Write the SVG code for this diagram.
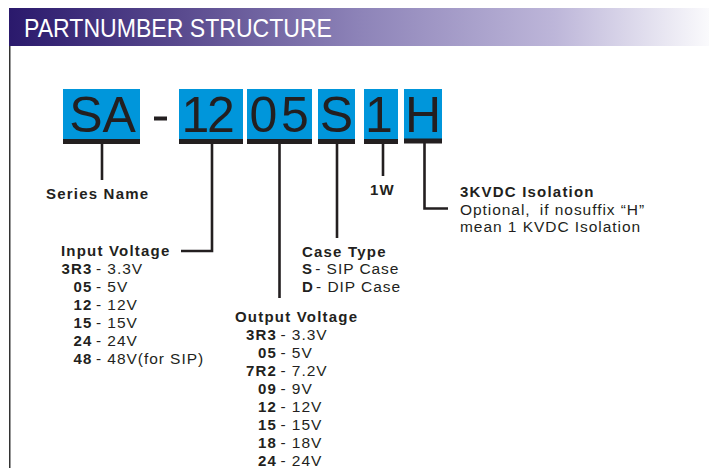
<svg xmlns="http://www.w3.org/2000/svg" width="709" height="468" viewBox="0 0 709 468">
  <defs>
    <linearGradient id="hdr" x1="0" y1="0" x2="1" y2="0">
      <stop offset="0" stop-color="#2a196c"/>
      <stop offset="0.25" stop-color="#5a4b8f"/>
      <stop offset="0.5" stop-color="#8d83b8"/>
      <stop offset="0.78" stop-color="#bdb6d9"/>
      <stop offset="1" stop-color="#fafafc"/>
    </linearGradient>
    <style>
      .box { fill: #0096db; }
      .bar { fill: #231f20; }
      .big { font-family: "Liberation Sans", Arial, sans-serif; font-size: 50px; fill: #231f20; text-anchor: middle; }
      .b { font-family: "Liberation Sans", Arial, sans-serif; font-size: 15px; font-weight: bold; fill: #231f20; letter-spacing: 1.2px; }
      .r { font-family: "Liberation Sans", Arial, sans-serif; font-size: 15.5px; fill: #231f20; letter-spacing: 0.95px; }
      .end { text-anchor: end; }
      .conn { fill: none; stroke: #231f20; stroke-width: 2.6; }
    </style>
  </defs>
  <rect width="709" height="468" fill="#ffffff"/>

  <g id="header">
    <rect x="9" y="8" width="700" height="38" fill="url(#hdr)"/>
    <text x="24" y="37" font-family="'Liberation Sans', Arial, sans-serif" font-size="25" fill="#ffffff" textLength="308" lengthAdjust="spacingAndGlyphs">PARTNUMBER STRUCTURE</text>
    <line x1="9.75" y1="46" x2="9.75" y2="468" stroke="#333333" stroke-width="1.5"/>
  </g>

  <g id="code-SA">
    <rect class="box" x="63" y="89" width="77" height="50"/>
    <rect class="bar" x="63" y="139" width="77" height="5"/>
    <text class="big" x="102.5" y="132">SA</text>
  </g>
  <g id="dash">
    <rect class="bar" x="154" y="116.5" width="13" height="4"/>
  </g>
  <g id="code-12">
    <rect class="box" x="179" y="89" width="64" height="50"/>
    <rect class="bar" x="179" y="139" width="64" height="5"/>
    <text class="big" x="195.5" y="132">1</text>
    <text class="big" x="221" y="132">2</text>
  </g>
  <g id="code-05">
    <rect class="box" x="247" y="89" width="65" height="50"/>
    <rect class="bar" x="247" y="139" width="65" height="5"/>
    <text class="big" x="263.5" y="132">0</text>
    <text class="big" x="295" y="132">5</text>
  </g>
  <g id="code-S">
    <rect class="box" x="318" y="89" width="37" height="50"/>
    <rect class="bar" x="318" y="139" width="37" height="5"/>
    <text class="big" x="336.5" y="132">S</text>
  </g>
  <g id="code-1">
    <rect class="box" x="364" y="89" width="34" height="50"/>
    <rect class="bar" x="364" y="139" width="34" height="5"/>
    <text class="big" x="379" y="132">1</text>
  </g>
  <g id="code-H">
    <rect class="box" x="404" y="89" width="38" height="50"/>
    <rect class="bar" x="404" y="138.5" width="38" height="5"/>
    <text class="big" x="423" y="132">H</text>
  </g>

  <g id="connectors">
    <path class="conn" d="M102 144 V180"/>
    <path class="conn" d="M212 144 V251 H181"/>
    <path class="conn" d="M279.5 144 V298"/>
    <path class="conn" d="M337 144 V238"/>
    <path class="conn" d="M383 144 V176"/>
    <path class="conn" d="M424.5 143 V208.5 H448"/>
  </g>

  <g id="label-series">
    <text class="b" x="46" y="199">Series Name</text>
  </g>

  <g id="label-power">
    <text class="b" x="370" y="195">1W</text>
  </g>

  <g id="label-isolation">
    <text class="b" x="460" y="197">3KVDC Isolation</text>
    <text class="r" x="460" y="215">Optional,<tspan dx="4"> if nosuffix “H”</tspan></text>
    <text class="r" x="460" y="232">mean 1 KVDC Isolation</text>
  </g>

  <g id="label-input">
    <text class="b" x="61" y="256">Input Voltage</text>
    <text class="b end" x="92.5" y="274">3R3</text><text class="r" x="96" y="274">- 3.3V</text>
    <text class="b end" x="92.5" y="292">05</text><text class="r" x="96" y="292">- 5V</text>
    <text class="b end" x="92.5" y="310">12</text><text class="r" x="96" y="310">- 12V</text>
    <text class="b end" x="92.5" y="328">15</text><text class="r" x="96" y="328">- 15V</text>
    <text class="b end" x="92.5" y="346">24</text><text class="r" x="96" y="346">- 24V</text>
    <text class="b end" x="92.5" y="364">48</text><text class="r" x="96" y="364">- 48V(for SIP)</text>
  </g>

  <g id="label-case">
    <text class="b" x="302" y="257">Case Type</text>
    <text x="302" y="274"><tspan class="b">S</tspan><tspan class="r" dx="2">- SIP Case</tspan></text>
    <text x="302" y="292"><tspan class="b">D</tspan><tspan class="r" dx="2">- DIP Case</tspan></text>
  </g>

  <g id="label-output">
    <text class="b" x="235" y="322">Output Voltage</text>
    <text class="b end" x="277" y="340">3R3</text><text class="r" x="280.5" y="340">- 3.3V</text>
    <text class="b end" x="277" y="358">05</text><text class="r" x="280.5" y="358">- 5V</text>
    <text class="b end" x="277" y="376">7R2</text><text class="r" x="280.5" y="376">- 7.2V</text>
    <text class="b end" x="277" y="394">09</text><text class="r" x="280.5" y="394">- 9V</text>
    <text class="b end" x="277" y="412">12</text><text class="r" x="280.5" y="412">- 12V</text>
    <text class="b end" x="277" y="430">15</text><text class="r" x="280.5" y="430">- 15V</text>
    <text class="b end" x="277" y="448">18</text><text class="r" x="280.5" y="448">- 18V</text>
    <text class="b end" x="277" y="466">24</text><text class="r" x="280.5" y="466">- 24V</text>
  </g>
</svg>
